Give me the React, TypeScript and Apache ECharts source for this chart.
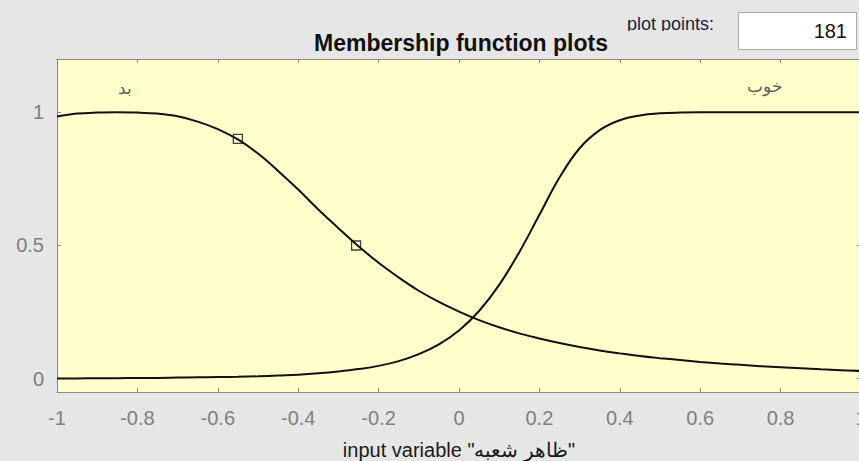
import React, { useEffect, useRef } from "react";
import * as echarts from "echarts";

const xValues = [
  -1, -0.95, -0.9, -0.85, -0.8, -0.75, -0.7, -0.65, -0.6, -0.55, -0.5, -0.45, -0.4, -0.35,
  -0.3, -0.25, -0.2, -0.15, -0.1, -0.05, 0, 0.05, 0.1, 0.15, 0.2, 0.25, 0.3, 0.35, 0.4,
  0.45, 0.5, 0.55, 0.6, 0.65, 0.7, 0.75, 0.8, 0.85, 0.9, 0.95, 1,
];
const badValues = [
  0.984, 0.995, 0.999, 1.0, 0.999, 0.995, 0.985, 0.965, 0.937, 0.898, 0.845, 0.78, 0.71,
  0.635, 0.565, 0.497, 0.435, 0.38, 0.33, 0.288, 0.252, 0.22, 0.193, 0.17, 0.151, 0.134,
  0.119, 0.106, 0.095, 0.085, 0.077, 0.07, 0.063, 0.057, 0.052, 0.047, 0.043, 0.039,
  0.035, 0.032, 0.029,
];
const goodValues = [
  0.001, 0.001, 0.002, 0.002, 0.003, 0.003, 0.004, 0.005, 0.006, 0.007, 0.009, 0.012,
  0.015, 0.02, 0.027, 0.036, 0.048, 0.066, 0.092, 0.129, 0.181, 0.254, 0.352, 0.475,
  0.615, 0.755, 0.865, 0.933, 0.97, 0.988, 0.996, 0.999, 1, 1, 1, 1, 1, 1, 1, 1, 1,
];
const markerPoints = [
  [-0.55, 0.9],
  [-0.256, 0.5],
];
const mfNames = ["بد", "خوب"];
const mfLabelPos = [
  [-0.831, 1.09],
  [0.761, 1.097],
];
const yTickValues = [0, 0.5, 1];
const titleText = "Membership function plots";
const xAxisName = 'input variable "ظاهر شعبه"';
const plotPointsLabel = "plot points:";
const plotPointsValue = "181";

const FONT = "'Liberation Sans', Arial, Helvetica, sans-serif";
const AXIS_GRAY = "#8a8a8a";
const LABEL_GRAY = "#808080";
const BG = "#e6e6e6";

export default function App() {
  const ref = useRef<HTMLDivElement>(null);

  useEffect(() => {
    document.body.style.margin = "0";
    if (!ref.current) return;
    const chart = echarts.init(ref.current, undefined, { renderer: "svg" });

    const lineData = (vals: number[]) => xValues.map((x, i) => [x, vals[i]]);

    const xCommon = {
      type: "value" as const,
      min: -1,
      max: 1,
      interval: 0.2,
      splitLine: { show: false },
      axisLine: { show: true, onZero: false, lineStyle: { color: AXIS_GRAY, width: 1 } },
      axisTick: { show: true, inside: true, length: 4, lineStyle: { color: AXIS_GRAY } },
    };
    const yCommon = {
      type: "value" as const,
      min: -0.05,
      max: 1.2,
      splitLine: { show: false },
      axisLine: { show: true, onZero: false, lineStyle: { color: AXIS_GRAY, width: 1 } },
      axisTick: {
        show: true,
        inside: true,
        length: 4,
        customValues: yTickValues,
        lineStyle: { color: AXIS_GRAY },
      },
    };

    chart.setOption({
      animation: false,
      backgroundColor: BG,
      grid: {
        left: 57,
        top: 59,
        width: 804,
        height: 333,
        show: true,
        backgroundColor: "#ffffcc",
        borderWidth: 0,
        containLabel: false,
        outerBoundsMode: "none",
      },
      xAxis: [
        {
          ...xCommon,
          position: "bottom",
          axisLabel: {
            show: true,
            color: LABEL_GRAY,
            fontSize: 20,
            fontFamily: FONT,
            margin: 16,
            hideOverlap: false,
            formatter: (v: number) => String(Math.round(v * 10) / 10),
          },
        },
        {
          ...xCommon,
          position: "top",
          axisLabel: { show: false },
        },
      ],
      yAxis: [
        {
          ...yCommon,
          position: "left",
          axisLabel: {
            show: true,
            color: LABEL_GRAY,
            fontSize: 20,
            fontFamily: FONT,
            margin: 13,
            customValues: yTickValues,
            formatter: (v: number) => String(v),
          },
        },
        {
          ...yCommon,
          position: "right",
          axisLabel: { show: false },
        },
      ],
      series: [
        {
          type: "line",
          data: lineData(badValues),
          smooth: 0.4,
          showSymbol: false,
          lineStyle: { color: "#111", width: 2 },
          z: 3,
        },
        {
          type: "line",
          data: lineData(goodValues),
          smooth: 0.4,
          showSymbol: false,
          lineStyle: { color: "#111", width: 2 },
          z: 3,
        },
        {
          type: "scatter",
          data: markerPoints,
          symbol: "rect",
          symbolSize: 9,
          itemStyle: { color: "rgba(0,0,0,0)", borderColor: "#111", borderWidth: 1.3 },
          z: 4,
        },
        {
          type: "scatter",
          data: mfNames.map((n, i) => ({ name: n, value: mfLabelPos[i] })),
          symbolSize: 0,
          label: {
            show: true,
            position: "inside",
            formatter: "{b}",
            color: "#333",
            fontSize: 17,
            fontFamily: FONT,
          },
          z: 5,
        },
      ],
      graphic: [
        {
          type: "text",
          x: 461,
          y: 43,
          style: {
            text: titleText,
            fill: "#111",
            fontSize: 23,
            fontWeight: "bold",
            fontFamily: FONT,
            textAlign: "center",
            textVerticalAlign: "middle",
          },
        },
        {
          type: "text",
          x: 627,
          y: 24,
          style: {
            text: plotPointsLabel,
            fill: "#1e1e3c",
            fontSize: 18,
            fontFamily: FONT,
            textAlign: "left",
            textVerticalAlign: "middle",
          },
        },
        {
          type: "rect",
          shape: { x: 622, y: 31, width: 112, height: 10 },
          style: { fill: BG },
        },
        {
          type: "rect",
          shape: { x: 738.5, y: 12.5, width: 118, height: 37 },
          style: { fill: "#ffffff", stroke: "#ababab", lineWidth: 1 },
        },
        {
          type: "text",
          x: 847,
          y: 31,
          style: {
            text: plotPointsValue,
            fill: "#111",
            fontSize: 20,
            fontFamily: FONT,
            textAlign: "right",
            textVerticalAlign: "middle",
          },
        },
        {
          type: "text",
          x: 459,
          y: 450,
          style: {
            text: xAxisName,
            fill: "#1a1a1a",
            fontSize: 20,
            fontFamily: FONT,
            textAlign: "center",
            textVerticalAlign: "middle",
          },
        },
      ],
    });

    return () => chart.dispose();
  }, []);

  return <div ref={ref} style={{ width: 859, height: 461 }} />;
}
